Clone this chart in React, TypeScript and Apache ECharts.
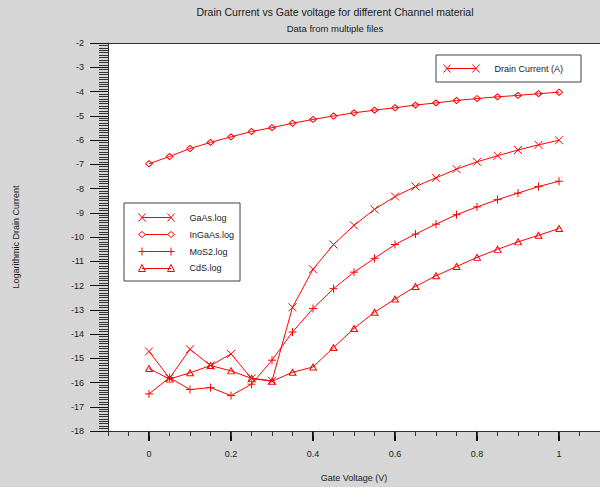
import React, { useEffect, useRef } from "react";
import * as echarts from "echarts";

const gateVoltage = [0, 0.05, 0.1, 0.15, 0.2, 0.25, 0.3, 0.35, 0.4, 0.45, 0.5, 0.55, 0.6, 0.65, 0.7, 0.75, 0.8, 0.85, 0.9, 0.95, 1.0];

const gaAs = [-14.72, -15.82, -14.63, -15.3, -14.82, -15.83, -15.93, -12.9, -11.33, -10.31, -9.52, -8.86, -8.33, -7.92, -7.56, -7.2, -6.9, -6.65, -6.41, -6.2, -6.01];
const inGaAs = [-6.98, -6.68, -6.35, -6.1, -5.87, -5.65, -5.49, -5.31, -5.15, -5.01, -4.88, -4.77, -4.67, -4.56, -4.47, -4.37, -4.29, -4.22, -4.16, -4.09, -4.03];
const moS2 = [-16.47, -15.8, -16.29, -16.21, -16.54, -16.07, -15.08, -13.92, -12.95, -12.13, -11.45, -10.88, -10.31, -9.88, -9.47, -9.08, -8.76, -8.46, -8.19, -7.92, -7.7];
const cdS = [-15.42, -15.86, -15.6, -15.3, -15.52, -15.83, -15.95, -15.58, -15.36, -14.56, -13.77, -13.1, -12.56, -12.04, -11.6, -11.22, -10.84, -10.51, -10.2, -9.93, -9.65];

const seriesNames = ["GaAs.log", "InGaAs.log", "MoS2.log", "CdS.log"];
const topLegendName = "Drain Current (A)";
const xMajorTicks = [0, 0.2, 0.4, 0.6, 0.8, 1];

const RED = "#ff0000";
const FONT = "Arial, 'Liberation Sans', sans-serif";
const TXT = "#1a1a1a";

const symX = "path://M0,0L8,8M8,0L0,8";
const symDiamond = "path://M0,3L3.5,0L7,3L3.5,6L0,3";
const symPlus = "path://M4,0L4,8M0,4L8,4";
const symTri = "path://M0,6L3.5,0L7,6L0,6";

const iconX = "path://M3.5,4L32.5,4M0,0L7,8M7,0L0,8M29,0L36,8M36,0L29,8";
const iconDiamond = "path://M7,4L29,4M0,4L3.5,1L7,4L3.5,7L0,4M29,4L32.5,1L36,4L32.5,7L29,4M0,0L0,0M36,8L36,8";
const iconPlus = "path://M0,4L36,4M3.5,0L3.5,8M32.5,0L32.5,8";
const iconTri = "path://M3.5,5L32.5,5M0,8L3.5,1L7,8L0,8M29,8L32.5,1L36,8L29,8";

const iconStyle = { color: "none", borderColor: RED, borderWidth: 1 };

export default function App() {
  const ref = useRef<HTMLDivElement>(null);
  useEffect(() => {
    if (!ref.current) return;
    const chart = echarts.init(ref.current, undefined, { renderer: "svg" });
    const pairs = (ys: number[]) => gateVoltage.map((x, i) => [x, ys[i]]);
    const mk = (name: string, ys: number[], symbol: string, size: number | number[]) => ({
      name,
      type: "line",
      xAxisIndex: 0,
      yAxisIndex: 0,
      data: pairs(ys),
      symbol,
      symbolSize: size,
      showSymbol: true,
      silent: true,
      color: RED,
      emphasis: { disabled: true },
      lineStyle: { color: RED, width: 1 },
      itemStyle: { color: "none", borderColor: RED, borderWidth: 1 },
      z: 3,
    });
    const legendCommon = {
      orient: "vertical",
      selectedMode: false,
      backgroundColor: "#ffffff",
      borderColor: "#404040",
      borderWidth: 1,
      itemWidth: 36,
      itemHeight: 8,
      itemStyle: iconStyle,
      textStyle: { fontFamily: FONT, fontSize: 9, color: TXT, padding: [0, 0, 0, 10], lineHeight: 12 },
    };
    chart.setOption({
      animation: false,
      backgroundColor: "#d6d6d6",
      textStyle: { fontFamily: FONT },
      title: [
        {
          text: "Drain Current vs Gate voltage for different Channel material",
          left: 330,
          top: 1,
          textAlign: "center",
          textStyle: { fontFamily: FONT, fontSize: 10.5, fontWeight: "normal", color: TXT },
        },
        {
          text: "Data from multiple files",
          left: 330,
          top: 18,
          textAlign: "center",
          textStyle: { fontFamily: FONT, fontSize: 9.5, fontWeight: "normal", color: TXT },
        },
      ],
      legend: [
        {
          ...legendCommon,
          left: 436,
          top: 55,
          padding: [7, 18, 7, 5],
          data: [{ name: topLegendName, icon: iconX, itemStyle: iconStyle }],
        },
        {
          ...legendCommon,
          left: 124,
          top: 203,
          itemGap: 4,
          padding: [8, 6, 7, 12],
          data: [
            { name: seriesNames[0], icon: iconX, itemStyle: iconStyle },
            { name: seriesNames[1], icon: iconDiamond, itemStyle: iconStyle },
            { name: seriesNames[2], icon: iconPlus, itemStyle: iconStyle },
            { name: seriesNames[3], icon: iconTri, itemStyle: iconStyle },
          ],
        },
      ],
      grid: {
        left: 108,
        top: 43,
        width: 492,
        height: 391,
        show: true,
        backgroundColor: "#ffffff",
        borderWidth: 0,
      },
      xAxis: [
        {
          type: "value",
          position: "bottom",
          min: -0.1,
          max: 1.1,
          interval: 0.05,
          name: "Gate Voltage (V)",
          nameLocation: "middle",
          nameGap: 42,
          nameTextStyle: { fontFamily: FONT, fontSize: 9, color: TXT },
          axisLine: { show: true, onZero: false, lineStyle: { color: "#333", width: 1 } },
          axisTick: { show: true, customValues: xMajorTicks, length: 10, lineStyle: { color: "#111", width: 2 } },
          axisLabel: { show: true, customValues: xMajorTicks, margin: 18, fontFamily: FONT, fontSize: 9, color: TXT },
          splitLine: { show: false },
        },
        {
          type: "value",
          position: "bottom",
          min: -0.1,
          max: 1.1,
          interval: 0.05,
          axisLine: { show: false, onZero: false },
          axisTick: { show: true, length: 5, lineStyle: { color: "#333", width: 1 } },
          axisLabel: { show: false },
          splitLine: { show: false },
        },
        {
          type: "value",
          position: "top",
          min: -0.1,
          max: 1.1,
          axisLine: { show: true, onZero: false, lineStyle: { color: "#333", width: 1 } },
          axisTick: { show: false },
          axisLabel: { show: false },
          splitLine: { show: false },
        },
      ],
      yAxis: {
        type: "value",
        position: "left",
        min: -18,
        max: -2,
        interval: 1,
        name: "Logarithmic Drain Current",
        nameLocation: "middle",
        nameGap: 88,
        nameTextStyle: { fontFamily: FONT, fontSize: 9, color: TXT },
        axisLine: { show: true, onZero: false, lineStyle: { color: "#333", width: 1 } },
        axisTick: { show: true, length: 18, lineStyle: { color: "#111", width: 1 } },
        minorTick: { show: true, splitNumber: 10, length: 9, lineStyle: { color: "#333", width: 1 } },
        axisLabel: { margin: 24, fontFamily: FONT, fontSize: 9, color: TXT },
        splitLine: { show: false },
        minorSplitLine: { show: false },
      },
      series: [
        { name: topLegendName, type: "line", data: [], color: RED, symbol: symX, lineStyle: { color: RED }, itemStyle: { color: "none", borderColor: RED } },
        mk(seriesNames[0], gaAs, symX, 8),
        mk(seriesNames[1], inGaAs, symDiamond, [7, 6]),
        mk(seriesNames[2], moS2, symPlus, 8),
        mk(seriesNames[3], cdS, symTri, [7, 6]),
      ],
    });
    return () => chart.dispose();
  }, []);
  return <div ref={ref} style={{ position: "fixed", left: 0, top: 0, width: 600, height: 487 }} />;
}
